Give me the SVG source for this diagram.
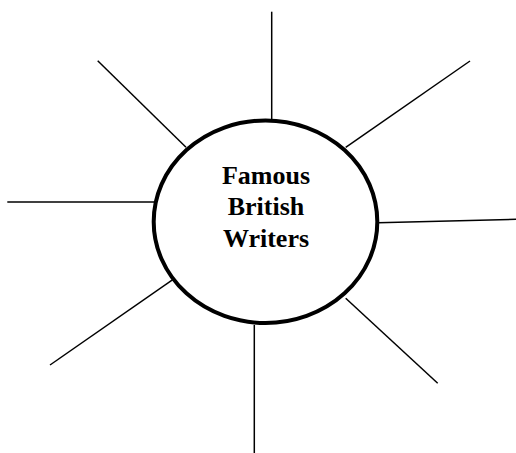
<svg xmlns="http://www.w3.org/2000/svg" width="516" height="453" viewBox="0 0 516 453">
<style>
.ray{stroke:#000;stroke-width:1.5;fill:none}
.hub{fill:#fff;stroke:#000;stroke-width:4}
.t{font-family:"Liberation Serif","Times New Roman",serif;font-weight:bold;font-size:26px;text-anchor:middle;fill:#000}
</style>
<rect width="516" height="453" fill="#fff"/>
<g id="connectors">
<line class="ray" x1="271.7" y1="11.7" x2="271.7" y2="121"/>
<line class="ray" x1="97.7" y1="60.7" x2="186" y2="147.3"/>
<line class="ray" x1="470" y1="61" x2="345.7" y2="147.3"/>
<line class="ray" x1="7.3" y1="202" x2="155" y2="202"/>
<line class="ray" x1="378" y1="222.7" x2="516" y2="219.3"/>
<line class="ray" x1="50" y1="365" x2="176" y2="277.3"/>
<line class="ray" x1="345.7" y1="298.3" x2="437.7" y2="383.3"/>
<line class="ray" x1="254.3" y1="325" x2="254.3" y2="453"/>
</g>
<g id="hub">
<ellipse class="hub" cx="265.5" cy="221.7" rx="111.8" ry="101.3"/>
<text class="t" x="266" y="184.3">Famous</text>
<text class="t" x="266" y="215">British</text>
<text class="t" x="266" y="246.7">Writers</text>
</g>
</svg>
